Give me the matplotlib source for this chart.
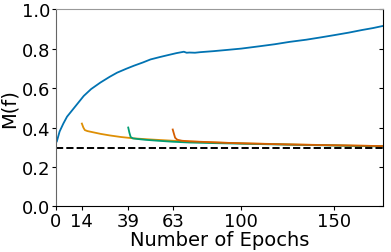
"""
M(f) over training epochs, with restarts at epochs 14, 39 and 63
"""

import matplotlib
matplotlib.use('Agg')
import matplotlib.pyplot as plt
import numpy as np

# main run (blue)
main_epochs = [0.5, 2, 4, 6, 9, 12, 15, 19, 24, 29, 33, 38, 42, 47, 51, 56, 60, 65, 69, 70.5, 72, 75, 78,
               85, 92, 100, 110, 118, 126, 135, 143, 150, 158, 165, 171, 176]
main_vals = [0.33, 0.38, 0.42, 0.455, 0.49, 0.525, 0.56, 0.595, 0.628, 0.657, 0.678, 0.698, 0.713, 0.73, 0.745,
             0.757, 0.766, 0.777, 0.784, 0.779, 0.780, 0.779, 0.782,
             0.787, 0.793, 0.80, 0.812, 0.822, 0.834, 0.845, 0.857, 0.868, 0.881, 0.894, 0.904, 0.914]

# restart from epoch 14 (orange)
r14_epochs = [14, 14.8, 15.6, 17, 20, 24, 29, 35, 42, 50, 63, 80, 100, 125, 150, 176]
r14_vals = [0.42, 0.40, 0.387, 0.382, 0.376, 0.368, 0.36, 0.352, 0.345, 0.34, 0.333, 0.326, 0.32, 0.315, 0.31, 0.306]

# restart from epoch 39 (green)
r39_epochs = [39, 39.6, 40.3, 41.5, 44, 48, 55, 63, 72, 85, 100, 125, 150, 176]
r39_vals = [0.40, 0.375, 0.352, 0.345, 0.342, 0.338, 0.333, 0.328, 0.324, 0.321, 0.318, 0.313, 0.309, 0.304]

# restart from epoch 63 (vermillion)
r63_epochs = [63, 63.6, 64.3, 65.5, 68, 72, 80, 90, 100, 125, 150, 176]
r63_vals = [0.39, 0.37, 0.348, 0.338, 0.333, 0.33, 0.327, 0.323, 0.32, 0.314, 0.31, 0.306]

baseline = 0.295
xticks = [0, 14, 39, 63, 100, 150]


def setup_fig():
    fig = plt.figure(figsize=[3.91, 2.53], dpi=100)
    ax = fig.add_subplot(1, 1, 1)
    fig.subplots_adjust(left=0.143, right=0.98, top=0.96, bottom=0.18)
    ax.set_xlim(0, 176.5)
    ax.set_ylim(0, 1.0)
    ax.set_xticks(xticks)
    ax.set_yticks([0.0, 0.2, 0.4, 0.6, 0.8, 1.0])
    ax.tick_params(labelsize=13, length=3, pad=1)
    ax.tick_params(axis='y', right=True, direction='out')
    ax.spines['top'].set_color('#999999')
    ax.spines['left'].set_color('#666666')
    ax.spines['right'].set_color('black')
    ax.set_xlabel('Number of Epochs', fontsize=14, labelpad=0)
    ax.set_ylabel('M(f)', fontsize=14, labelpad=2)
    return fig, ax


def plot_runs(ax):
    ax.plot(main_epochs, main_vals, color='#0173B2', lw=1.3)
    ax.plot(r14_epochs, r14_vals, color='#DE8F05', lw=1.3)
    ax.plot(r39_epochs, r39_vals, color='#029E73', lw=1.3)
    ax.plot(r63_epochs, r63_vals, color='#D55E00', lw=1.3)
    ax.axhline(baseline, color='black', ls='--', lw=1.4)


if __name__ == "__main__":
    fig, ax = setup_fig()
    plot_runs(ax)
    # right ticks point inward, left ones out
    for t in ax.yaxis.get_major_ticks():
        t.tick2line.set_marker(matplotlib.lines.TICKLEFT)
    fig.savefig('out.png', dpi=100)
